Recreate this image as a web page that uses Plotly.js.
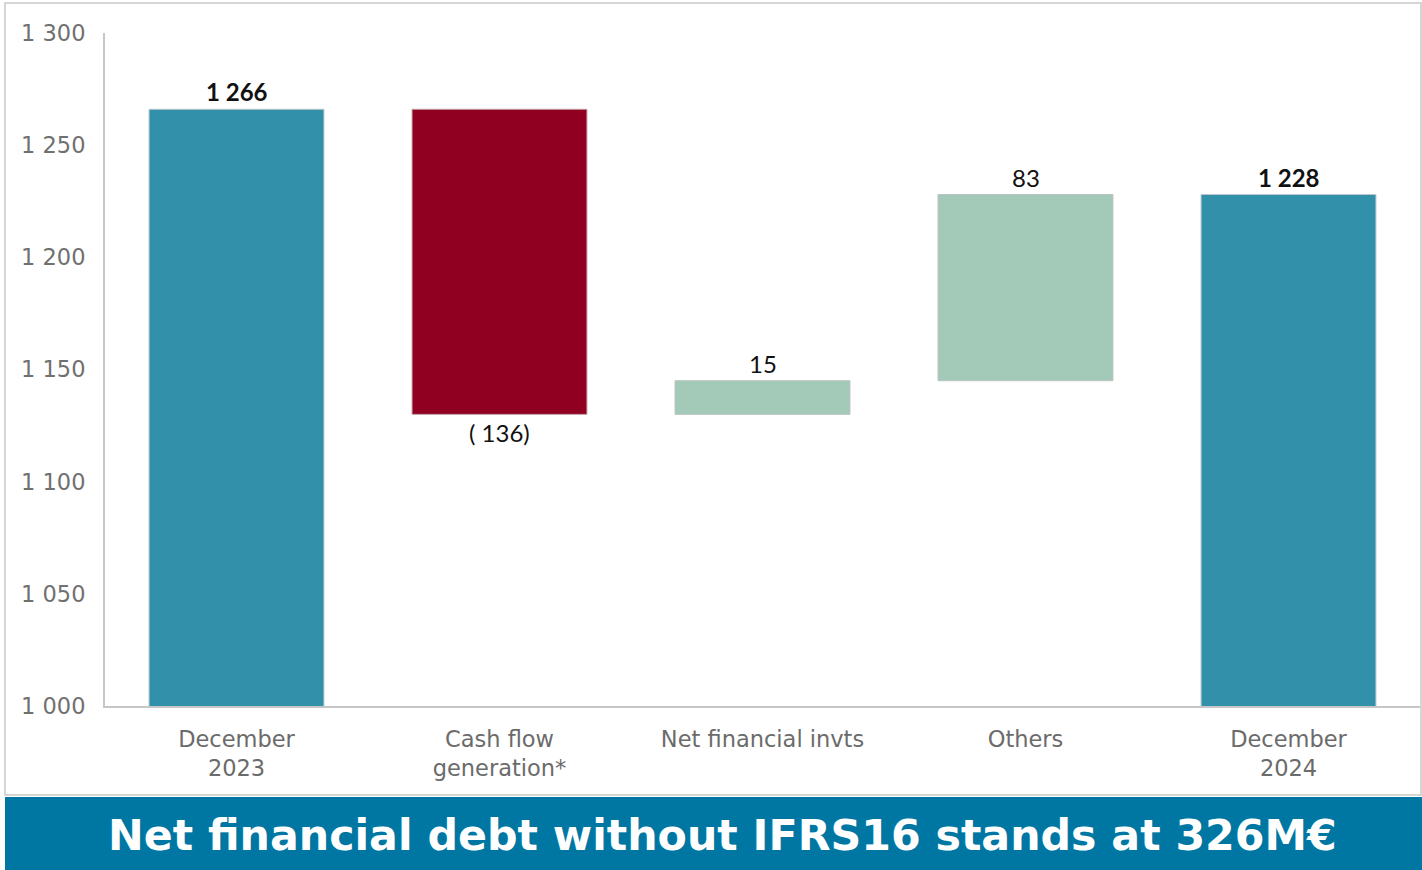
<!DOCTYPE html>
<html>
<head>
<meta charset="utf-8">
<script src="https://cdn.plot.ly/plotly-3.0.1.min.js"></script>
<style>
html,body{margin:0;padding:0;background:#fff;}
#chart{width:1422px;height:870px;}
</style>
</head>
<body>
<div id="chart"></div>
<script>
const categories = ["December<br>2023", "Cash flow<br>generation*", "Net financial invts", "Others", "December<br>2024"];
const values = [1266, -136, 15, 83, 1228];
const measures = ["absolute", "relative", "relative", "relative", "total"];
const valueLabels = ["1 266", "( 136)", "15", "83", "1 228"];
const tickVals = [1000, 1050, 1100, 1150, 1200, 1250, 1300];
const tickText = ["1 000", "1 050", "1 100", "1 150", "1 200", "1 250", "1 300"];
const bannerText = "Net financial debt without IFRS16 stands at 326M€";

// plot area in pixels (used to convert frame positions to paper fractions)
const W = 1422, H = 870, L = 105, R = 2, T = 33, B = 164;
const pw = W - L - R, ph = H - T - B;
const px = v => (v - L) / pw;
const py = v => (H - B - v) / ph;

const trace = {
  type: "waterfall",
  x: categories,
  y: values,
  measure: measures,
  textposition: "none",
  hoverinfo: "none",
  width: 0.665,
  connector: {visible: false},
  increasing: {marker: {color: "#a3c9b8", line: {color: "#b9c4c0", width: 1}}},
  decreasing: {marker: {color: "#900020", line: {color: "#c0a0a8", width: 1}}},
  totals: {marker: {color: "#3390aa", line: {color: "#b8c8cc", width: 1}}}
};

const annotations = [];
let running = 0;
for (let i = 0; i < values.length; i++) {
  let start, end;
  if (measures[i] === "absolute") { start = 0; end = values[i]; running = values[i]; }
  else if (measures[i] === "total") { start = 0; end = running; }
  else { start = running; end = running + values[i]; running = end; }
  const isTotal = measures[i] !== "relative";
  const neg = end < start;
  annotations.push({
    x: categories[i], xref: "x",
    y: end, yref: "y",
    text: isTotal ? "<b>" + valueLabels[i] + "</b>" : valueLabels[i],
    showarrow: false,
    yanchor: neg ? "top" : "bottom",
    yshift: neg ? -2 : 1,
    font: {family: "Lato, 'Open Sans', sans-serif", size: 24, color: "#111"}
  });
}
annotations.push({
  x: px(722), xref: "paper", y: py(835), yref: "paper",
  text: "<b>" + bannerText + "</b>",
  showarrow: false, xanchor: "center", yanchor: "middle",
  font: {family: "DejaVu Sans, Verdana, sans-serif", size: 42.7, color: "#ffffff"}
});

const layout = {
  width: W, height: H,
  margin: {l: L, r: R, t: T, b: B},
  paper_bgcolor: "#ffffff", plot_bgcolor: "#ffffff",
  showlegend: false,
  font: {family: "DejaVu Sans, Verdana, sans-serif"},
  xaxis: {
    type: "category",
    range: [-0.5, 4.5],
    showline: true, linecolor: "#c6c6c6", linewidth: 2,
    showgrid: false, zeroline: false, ticks: "",
    ticklabelstandoff: 12,
    tickfont: {family: "DejaVu Sans, Verdana, sans-serif", size: 22.5, color: "#6b6b6b"},
    fixedrange: true
  },
  yaxis: {
    range: [1000, 1300],
    tickvals: tickVals, ticktext: tickText,
    showline: true, linecolor: "#c6c6c6", linewidth: 2,
    showgrid: false, zeroline: false, ticks: "",
    ticklabelstandoff: 13,
    tickfont: {family: "DejaVu Sans, Verdana, sans-serif", size: 22.5, color: "#707070"},
    fixedrange: true
  },
  shapes: [
    {type: "rect", xref: "paper", yref: "paper", x0: px(5), x1: px(1421), y0: py(795), y1: py(3),
     line: {color: "#c8c8c8", width: 1.5}, fillcolor: "rgba(0,0,0,0)", layer: "below"},
    {type: "rect", xref: "paper", yref: "paper", x0: px(5), x1: px(1422), y0: py(870), y1: py(797),
     line: {width: 0}, fillcolor: "#0077a3", layer: "above"}
  ],
  annotations: annotations
};

Plotly.newPlot("chart", [trace], layout, {displayModeBar: false, staticPlot: true});
</script>
</body>
</html>
